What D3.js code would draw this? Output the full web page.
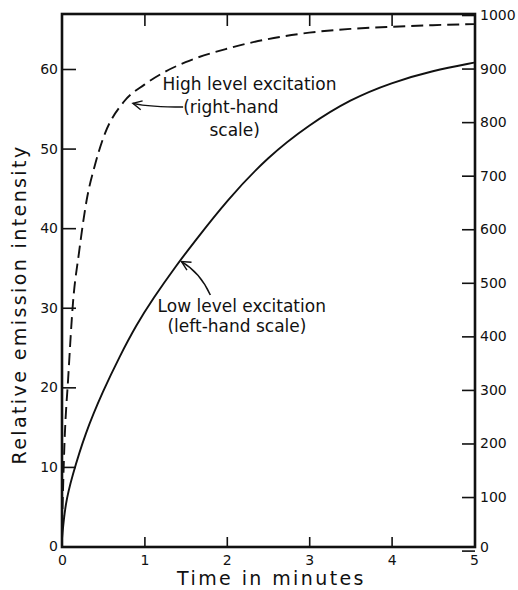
<!DOCTYPE html>
<html>
<head>
<meta charset="utf-8">
<script src="https://cdn.jsdelivr.net/npm/d3@7.9.0/dist/d3.min.js"></script>
<style>
  body { margin: 0; background: #fff; }
  svg text { font-family: 'DejaVu Sans', sans-serif; fill: #111; }
  .tick line { stroke: #111; stroke-width: 1.6; }
  .tick text { font-size: 14px; }
</style>
</head>
<body>
<div id="chart"></div>
<script>
// low level excitation, left-hand scale (solid)
const lowTime  = [0, 0.04, 0.12, 0.28, 0.5, 0.7, 0.9, 1.1, 1.4, 1.6, 2, 2.5, 3, 3.5, 4, 4.5, 5];
const lowValue = [1, 5.4, 8.7, 14.2, 19.6, 23.9, 27.8, 31.1, 35.5, 38.2, 43.5, 49, 53.0, 56.2, 58.3, 59.8, 60.8];

// high level excitation, right-hand scale (dashed)
const highTime  = [0, 0.03, 0.075, 0.133, 0.206, 0.3, 0.4, 0.5, 0.75, 1, 1.25, 1.5, 2, 2.5, 3, 3.5, 4, 4.5, 5];
const highValue = [44, 200, 322, 462, 556, 655, 720, 770, 838, 870, 894, 912, 937, 955, 967, 974, 978, 981, 983];

const xTicks = [0, 1, 2, 3, 4, 5];
const leftTicks = [0, 10, 20, 30, 40, 50, 60];
const rightTicks = [0, 100, 200, 300, 400, 500, 600, 700, 800, 900, 1000];

const width = 518, height = 590;
const frame = { left: 62, right: 475, top: 14, bottom: 547 };

const svg = d3.select('#chart').append('svg')
  .attr('width', width)
  .attr('height', height);

const x = d3.scaleLinear().domain([0, 5]).range([frame.left, 474]);
const yL = d3.scaleLinear().domain([0, 60]).range([546.5, 69]);
const yR = d3.scaleLinear().domain([0, 1000]).range([550.6, 15]);
const fmt = d3.format('d');

// ticks
svg.append('g')
  .attr('transform', `translate(${frame.left},0)`)
  .call(d3.axisLeft(yL).tickValues(leftTicks).tickFormat(fmt).tickSize(-14).tickPadding(4))
  .call((g) => g.select('.domain').remove());

svg.append('g')
  .attr('transform', `translate(${frame.right},0)`)
  .call(d3.axisRight(yR).tickValues(rightTicks).tickFormat(fmt).tickSize(-13).tickPadding(5))
  .call((g) => g.select('.domain').remove())
  .call((g) => g.selectAll('.tick text').filter((d) => d === 0).attr('dy', '0.05em'));

svg.append('g')
  .attr('transform', `translate(0,${frame.bottom})`)
  .call(d3.axisBottom(x).tickValues(xTicks).tickFormat(fmt).tickSize(-10).tickPadding(8))
  .call((g) => g.select('.domain').remove())
  .call((g) => g.selectAll('.tick line').filter((d) => d === 0 || d === 5).remove());

svg.append('g')
  .attr('transform', `translate(0,${frame.top})`)
  .call(d3.axisTop(x).tickValues(xTicks.slice(1, 5)).tickSize(-12).tickFormat(''))
  .call((g) => g.select('.domain').remove());

// frame
svg.append('rect')
  .attr('x', frame.left)
  .attr('y', frame.top)
  .attr('width', frame.right - frame.left)
  .attr('height', frame.bottom - frame.top)
  .attr('fill', 'none')
  .attr('stroke', '#111')
  .attr('stroke-width', 2.6);

// curves
const lowData = lowTime.map((t, i) => ({ t, v: lowValue[i] }));
const highData = highTime.map((t, i) => ({ t, v: highValue[i] }));

svg.append('path')
  .datum(lowData)
  .attr('fill', 'none')
  .attr('stroke', '#111')
  .attr('stroke-width', 1.9)
  .attr('d', d3.line().x((d) => x(d.t)).y((d) => yL(d.v)).curve(d3.curveBasis));

svg.append('path')
  .datum(highData)
  .attr('fill', 'none')
  .attr('stroke', '#111')
  .attr('stroke-width', 1.9)
  .attr('stroke-dasharray', '12,6')
  .attr('d', d3.line().x((d) => x(d.t)).y((d) => yR(d.v)).curve(d3.curveMonotoneX));

// arrows
svg.append('defs').append('marker')
  .attr('id', 'arrow')
  .attr('viewBox', '-1 -6 12 12')
  .attr('refX', 9)
  .attr('refY', 0)
  .attr('markerWidth', 12)
  .attr('markerHeight', 12)
  .attr('markerUnits', 'userSpaceOnUse')
  .attr('orient', 'auto')
  .append('path')
  .attr('d', 'M0,-4.5L9,0L0,4.5')
  .attr('fill', 'none')
  .attr('stroke', '#111')
  .attr('stroke-width', 1.4);

const hiTip = [x(0.86), yR(835)];
svg.append('path')
  .attr('fill', 'none')
  .attr('stroke', '#111')
  .attr('stroke-width', 1.5)
  .attr('marker-end', 'url(#arrow)')
  .attr('d', `M${x(1.47)},${yR(828)} Q${x(1.07)},${yR(828)} ${hiTip[0]},${hiTip[1]}`);

const loTip = [x(1.45), yL(35.8)];
svg.append('path')
  .attr('fill', 'none')
  .attr('stroke', '#111')
  .attr('stroke-width', 1.5)
  .attr('marker-end', 'url(#arrow)')
  .attr('d', `M${x(1.8)},${yL(31.6)} Q${x(1.68)},${yL(34.4)} ${loTip[0]},${loTip[1]}`);

// annotation text
const note = (tx, ty, str) => svg.append('text')
  .attr('x', tx).attr('y', ty)
  .attr('font-size', 17)
  .text(str);

note(x(1.22), yR(860), 'High level excitation');
note(x(1.47), yR(817), '(right-hand');
note(x(1.79), yR(775), 'scale)');
note(x(1.16), yL(29.5), 'Low level excitation');
note(x(1.28), yL(27.0), '(left-hand scale)');

// axis titles
svg.append('text')
  .attr('x', (frame.left + frame.right) / 2 + 3)
  .attr('y', 585)
  .attr('text-anchor', 'middle')
  .attr('font-size', 19)
  .attr('letter-spacing', 2.4)
  .text('Time in minutes');

svg.append('text')
  .attr('transform', `translate(26,${(frame.top + frame.bottom) / 2 + 24}) rotate(-90)`)
  .attr('text-anchor', 'middle')
  .attr('font-size', 19)
  .attr('letter-spacing', 2.4)
  .text('Relative emission intensity');
</script>
</body>
</html>
